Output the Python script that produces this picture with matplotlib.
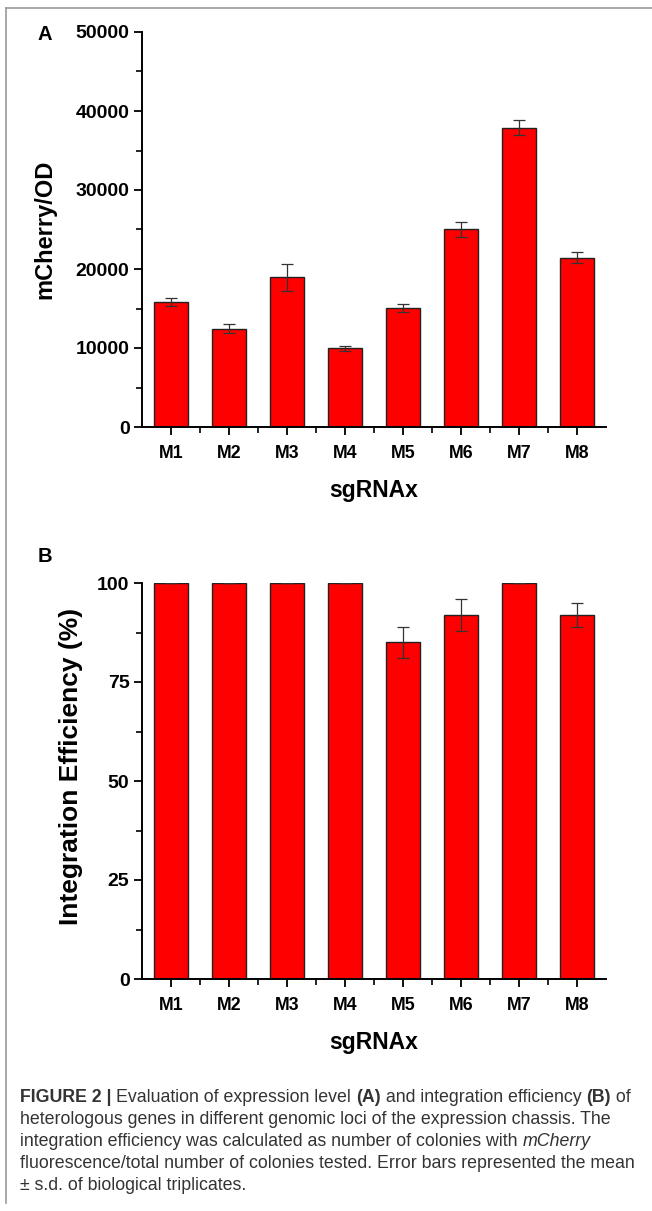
import numpy as np
import matplotlib.pyplot as plt
from matplotlib.lines import Line2D
from matplotlib.ticker import MultipleLocator

plt.rcParams['font.family'] = ['Liberation Sans', 'DejaVu Sans']

# data
loci = ['M1', 'M2', 'M3', 'M4', 'M5', 'M6', 'M7', 'M8']
mcherry_od = [15800, 12450, 18950, 9950, 15100, 25000, 37900, 21450]
mcherry_err = [500, 600, 1700, 300, 500, 900, 1000, 650]
integ_eff = [100, 100, 100, 100, 85, 92, 100, 92]
integ_err = [0, 0, 0, 0, 4, 4, 0, 3]

caption = [
    [("FIGURE 2 | ", "bold", "normal"), ("Evaluation of expression level ", "normal", "normal"),
     ("(A)", "bold", "normal"), (" and integration efficiency ", "normal", "normal"),
     ("(B)", "bold", "normal"), (" of", "normal", "normal")],
    [("heterologous genes in different genomic loci of the expression chassis. The", "normal", "normal")],
    [("integration efficiency was calculated as number of colonies with ", "normal", "normal"),
     ("mCherry", "normal", "italic")],
    [("fluorescence/total number of colonies tested. Error bars represented the mean", "normal", "normal")],
    [("\u00b1 s.d. of biological triplicates.", "normal", "normal")],
]

W, H = 652, 1211
fig = plt.figure(figsize=(W / 100, H / 100), dpi=100)

x = np.arange(1, len(loci) + 1)


def style_axes(ax):
    for s in ['top', 'right']:
        ax.spines[s].set_visible(False)
    for s in ['left', 'bottom']:
        ax.spines[s].set_linewidth(1.4)
    ax.set_xlim(0.5, 8.5)
    ax.set_xticks(x)
    ax.set_xticks(x[:-1] + 0.5, minor=True)
    ax.set_xticklabels(loci, fontsize=12.8, fontweight='bold')
    ax.tick_params(axis='both', which='major', direction='out', length=6, width=1.3, pad=3)
    ax.tick_params(axis='both', which='minor', direction='out', length=4, width=1.2)
    ax.tick_params(axis='x', which='major', pad=7)
    for lab in ax.get_yticklabels():
        lab.set_fontweight('bold')
        lab.set_fontsize(14)
    ax.set_xlabel('sgRNAx', fontsize=16.5, fontweight='bold', labelpad=12)


# panel A
axA = fig.add_axes([142 / W, 1 - 427 / H, 464 / W, (427 - 32) / H])
axA.bar(x, mcherry_od, width=0.6, color='#ff0000', edgecolor='#222222', linewidth=1.0,
        yerr=mcherry_err, error_kw=dict(ecolor='#333333', elinewidth=0.9, capsize=4, capthick=0.9))
axA.set_ylim(0, 50000)
axA.yaxis.set_major_locator(MultipleLocator(10000))
axA.yaxis.set_minor_locator(MultipleLocator(5000))
style_axes(axA)
axA.set_ylabel('mCherry/OD', fontsize=17, fontweight='bold')
axA.yaxis.set_label_coords(-(142 - 56) / 464, 0.5)

# panel B
axB = fig.add_axes([142 / W, 1 - 979 / H, 464 / W, (979 - 583) / H])
axB.bar(x, integ_eff, width=0.6, color='#ff0000', edgecolor='#222222', linewidth=1.0)
axB.errorbar(x, integ_eff, yerr=integ_err, fmt='none', ecolor='#333333',
             elinewidth=0.9, capsize=4, capthick=0.9)
axB.set_ylim(0, 100)
axB.yaxis.set_major_locator(MultipleLocator(25))
axB.yaxis.set_minor_locator(MultipleLocator(12.5))
style_axes(axB)
axB.set_ylabel('Integration Efficiency (%)', fontsize=19, fontweight='bold')
axB.yaxis.set_label_coords(-(142 - 83) / 464, (979 - 766) / 396)

fig.text(38 / W, 1 - 35 / H, 'A', fontsize=14.5, fontweight='bold', ha='left', va='center')
fig.text(38 / W, 1 - 556 / H, 'B', fontsize=14.5, fontweight='bold', ha='left', va='center')

# frame lines
fig.add_artist(Line2D([6 / W, 6 / W], [1 - 8 / H, 1 - 1203 / H], color='#999999', lw=1.2))
fig.add_artist(Line2D([6 / W, 1.0], [1 - 8 / H, 1 - 8 / H], color='#999999', lw=1.2))

# caption, drawn piece by piece
renderer = fig.canvas.get_renderer()
y0 = 1097
for i, line in enumerate(caption):
    xpos = 20
    for txt, weight, style in line:
        t = fig.text(xpos / W, 1 - (y0 + 22 * i) / H, txt, fontsize=12.8, color='#333333',
                     fontweight=weight, fontstyle=style, ha='left', va='center')
        bb = t.get_window_extent(renderer=renderer)
        xpos += bb.width

fig.savefig('out.png', dpi=100)
